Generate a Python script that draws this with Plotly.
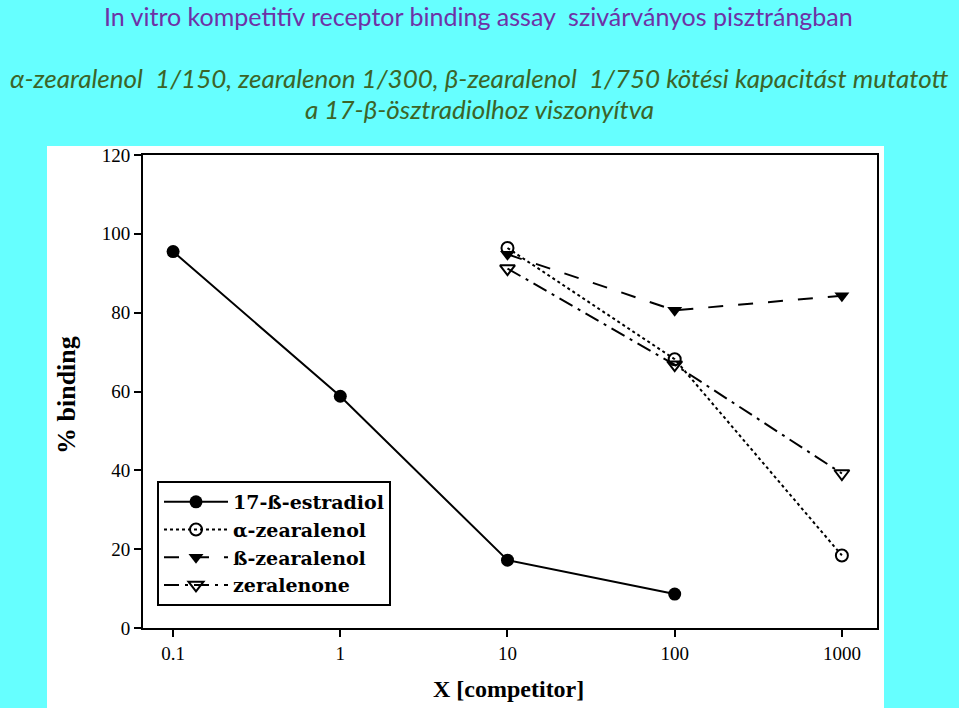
import plotly.graph_objects as go

# ---- data ----
x_estradiol = [0.1, 1, 10, 100]
y_estradiol = [95.5, 58.8, 17.2, 8.6]

x_competitor = [10, 100, 1000]
y_alpha_zearalenol = [96.4, 68.2, 18.4]
y_beta_zearalenol = [94.8, 80.6, 84.3]
y_zearalenone = [91.2, 66.8, 39.2]

tick_vals = [0.1, 1, 10, 100, 1000]
tick_text = ["0.1", "1", "10", "100", "1000"]
y_ticks = [0, 20, 40, 60, 80, 100, 120]

series_names = ["17-ß-estradiol", "α-zearalenol", "ß-zearalenol", "zeralenone"]

title1 = "In vitro kompetitív receptor binding assay  szivárványos pisztrángban"
title2 = "α-zearalenol  1/150, zearalenon 1/300, β-zearalenol  1/750 kötési kapacitást mutatott"
title3 = "a 17-β-ösztradiolhoz viszonyítva"

W, H = 959, 708
L, R, T, B = 143, 82, 155, 80
pw, ph = W - L - R, H - T - B

def px_x(px):
    return (px - L) / pw

def px_y(py):
    return (H - B - py) / ph

serif = "Liberation Serif"
fig = go.Figure()

fig.add_trace(go.Scatter(
    x=x_estradiol, y=y_estradiol, name=series_names[0], mode="lines+markers",
    line=dict(color="black", width=2, dash="solid"),
    marker=dict(symbol="circle", size=13, color="black")))
fig.add_trace(go.Scatter(
    x=x_competitor, y=y_alpha_zearalenol, name=series_names[1], mode="lines+markers",
    line=dict(color="black", width=2, dash="dot"),
    marker=dict(symbol="circle-open", size=12, color="black", line=dict(width=2))))
fig.add_trace(go.Scatter(
    x=x_competitor, y=y_beta_zearalenol, name=series_names[2], mode="lines+markers",
    line=dict(color="black", width=2, dash="longdash"),
    marker=dict(symbol="triangle-down", size=13, color="black")))
fig.add_trace(go.Scatter(
    x=x_competitor, y=y_zearalenone, name=series_names[3], mode="lines+markers",
    line=dict(color="black", width=2, dash="longdashdot"),
    marker=dict(symbol="triangle-down-open", size=13, color="black", line=dict(width=2))))

fig.update_layout(
    width=W, height=H,
    margin=dict(l=L, r=R, t=T, b=B, pad=0),
    paper_bgcolor="#66FFFF",
    plot_bgcolor="white",
    showlegend=True,
    legend=dict(
        x=px_x(157), y=px_y(481), xanchor="left", yanchor="top",
        bgcolor="white", bordercolor="black", borderwidth=2,
        font=dict(family="DejaVu Serif", size=19, color="black", weight="bold"),
        itemwidth=64, tracegroupgap=0,
    ),
    xaxis=dict(
        type="log", range=[-1.18, 3.21],
        tickvals=tick_vals, ticktext=tick_text,
        ticks="outside", ticklen=7, tickwidth=2, tickcolor="black",
        showline=True, linecolor="black", linewidth=2, mirror=True,
        showgrid=False, zeroline=False,
        tickfont=dict(family=serif, size=19, color="black"),
    ),
    yaxis=dict(
        range=[0, 120], tickvals=y_ticks,
        ticks="outside", ticklen=7, tickwidth=2, tickcolor="black",
        showline=True, linecolor="black", linewidth=2, mirror=True,
        showgrid=False, zeroline=False,
        tickfont=dict(family=serif, size=19, color="black"),
    ),
    shapes=[dict(type="rect", xref="paper", yref="paper",
                 x0=px_x(47), x1=px_x(884), y0=px_y(708), y1=px_y(146),
                 fillcolor="white", line=dict(width=0), layer="below")],
)

fig.add_annotation(text="% binding", xref="paper", yref="paper",
                   x=px_x(66), y=px_y(395), xanchor="center", yanchor="middle",
                   showarrow=False, textangle=-90,
                   font=dict(family=serif, size=26, color="black", weight="bold"))
fig.add_annotation(text="X [competitor]", xref="paper", yref="paper",
                   x=px_x(508), y=px_y(689), xanchor="center", yanchor="middle",
                   showarrow=False,
                   font=dict(family=serif, size=24, color="black", weight="bold"))

def top_text(text, cx, cy, size, color, italic=False):
    fig.add_annotation(text=text, xref="paper", yref="paper",
                       x=px_x(cx), y=px_y(cy), showarrow=False,
                       xanchor="center", yanchor="middle",
                       font=dict(family="Lato", size=size, color=color,
                                 style="italic" if italic else "normal"))

top_text(title1, 478, 16, 25, "#6E32A6")
top_text(title2, 479, 78, 26, "#3C6428", italic=True)
top_text(title3, 479, 109, 26, "#3C6428", italic=True)

fig.write_html("out.html")
